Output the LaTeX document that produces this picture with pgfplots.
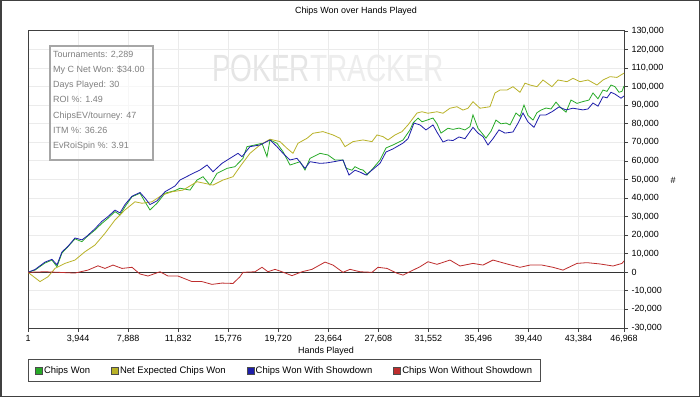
\documentclass[border=0pt]{standalone}
\usepackage{pgfplots}
\pgfplotsset{compat=1.18}
\usepackage{pgfplotstable}
\usepackage{fontspec}
\setmainfont{Liberation Sans}
\definecolor{cwon}{RGB}{40,170,40}
\definecolor{cnet}{RGB}{185,178,40}
\definecolor{cshow}{RGB}{30,30,170}
\definecolor{cnoshow}{RGB}{190,45,45}

\pgfplotstableread{
h v
1 0
552 1200
1340 5000
1891 6600
2285 3000
2679 10400
3152 13800
3704 18000
4255 16500
4649 19200
5280 22800
5831 26400
6304 29100
6856 32700
7250 30900
7644 35300
8196 40700
8826 42600
9220 38000
9614 33600
10166 37200
10796 42600
11584 44000
11978 45300
12766 44300
13318 49700
13791 51500
14342 47000
14894 53300
15682 56000
16312 56900
16943 61400
17258 67700
17888 68600
18440 69500
18834 62300
19071 71300
19622 69500
20095 65000
20647 57800
21435 59600
21829 55100
22223 61400
23011 64100
23641 63200
24193 60500
24823 60500
25060 56100
25532 55000
25769 56900
26163 55500
26399 55100
26636 53500
26715 52400
27187 56000
27739 60500
28212 67000
28763 68600
29552 71300
30103 76700
30340 80400
30735 83100
31049 81100
31443 82000
31916 83100
32231 80000
32546 75000
33098 77600
33492 77000
33965 77700
34437 76700
34831 78500
35068 84800
35462 77600
36092 72300
36486 76000
36879 82000
37274 80000
37668 80400
37984 79400
38456 85800
38772 84000
39087 90100
39402 84500
39796 82000
40111 86000
40426 87400
40820 88500
41215 88000
41609 91700
42003 88500
42397 86300
42791 92800
43263 91000
43736 92000
44209 92800
44524 96600
44918 93500
45312 98200
45627 97500
45942 100900
46258 100000
46573 97000
46810 97500
46968 100400
}\chipswon

\pgfplotstableread{
h v
1 0
946 -5000
1576 -2400
2128 2100
2916 4800
3704 6600
4492 11100
5280 14700
6068 21000
6856 28200
7644 33600
8432 38000
8984 37200
9772 38000
10560 41600
11348 43400
12215 44300
13318 48800
14579 47000
15367 49700
16155 51500
16706 56900
17494 64100
18283 68600
19071 71700
19859 70400
20410 66800
20883 64100
21277 69500
21986 72200
22459 74900
23247 75800
24035 74000
24587 72200
24981 67700
25611 70400
26399 71300
27109 70400
27503 74000
27975 73100
28369 71300
28921 74000
29472 75800
29946 79400
30655 85800
31049 86500
31522 85700
32231 86500
32703 85700
33255 88400
33807 89200
34280 87400
34674 88400
35068 91900
35619 88400
36407 89200
36801 96600
37196 98200
37747 98200
38220 100000
38772 97000
39166 101900
39560 100900
40111 100000
40584 103600
41293 100000
41766 103600
42475 102700
42948 104500
43500 102700
44130 103600
44839 100900
45312 103600
45864 105400
46416 105000
46968 107300
}\netexp

\pgfplotstableread{
h v
1 0
552 1500
1340 5500
1891 7000
2285 4000
2679 11000
3152 14000
3704 18500
4255 17500
4649 19500
5280 23500
5831 27500
6304 30000
6856 33500
7250 32000
7644 36500
8196 41000
8826 43000
9220 40000
9614 36500
10166 38500
10796 43400
11584 46500
11978 49700
13003 53300
13554 55100
14106 57800
14579 54200
15288 58700
15918 61400
16549 64100
16864 62300
17494 67700
18283 68600
19071 71300
19622 67700
20095 64100
20647 60500
21198 61400
21829 56000
22223 59600
23011 58700
23484 58900
24035 59500
24823 60500
25296 52400
25769 55000
26163 54000
26636 52400
27187 55500
27739 58700
28212 64800
28763 66500
29552 69600
29946 72000
30418 80400
30891 79400
31364 76700
31916 79400
32231 75500
32703 70200
33098 71300
33492 71000
33965 72900
34437 72000
35068 78100
35462 75000
35856 73100
36250 68600
36643 72000
37117 76700
37590 75000
38220 75600
38614 80300
39008 85800
39402 81000
39875 78100
40348 84800
40820 84800
41293 86500
41845 89100
42397 87500
42948 88400
43736 87500
44130 88000
44524 91200
44918 89500
45312 94600
45627 94000
45942 97000
46258 96000
46731 93800
46968 95000
}\withsd

\pgfplotstableread{
h v
1 0
1340 300
2364 0
3704 -400
4728 1200
5516 3500
6068 2100
6698 3900
7408 2100
8196 2700
8826 -900
9456 -2000
10402 300
11033 -2000
11821 -2000
12924 -5000
13712 -5000
14500 -6500
15288 -5800
16155 -6000
16706 -2400
16943 0
17888 300
18440 2700
18913 300
19465 1600
20016 300
20804 -1800
21592 300
22380 1600
23011 4000
23405 5500
24035 3900
24823 0
25375 1600
26163 300
27109 0
27582 2700
28291 2100
29079 -500
29552 -1500
30262 900
30891 3000
31522 5700
32231 4300
33255 6600
34043 3400
35068 4800
35856 3900
36644 6600
37747 4500
38772 2700
39560 3900
40505 3900
41372 2700
42160 1200
43263 4800
44051 5200
45076 4500
46100 3400
46810 4800
46968 6100
}\withoutsd

\begin{document}
\begin{tikzpicture}
\useasboundingbox (0,0) rectangle (700bp,397bp);
\fill[white] (0,0) rectangle (700bp,397bp);
% watermark
\node[anchor=center, inner sep=0, font=\fontsize{38}{38}\selectfont] at (328bp,329bp)
  {\scalebox{0.74}[1]{\textcolor{black!10}{POKER}\textcolor{black!7}{TRACKER}}};
\begin{axis}[
  at={(28bp,69bp)}, anchor=south west,
  width=596bp, height=297bp, scale only axis,
  xmin=1, xmax=46968, ymin=-30000, ymax=130000,
  xtick={1,3944,7888,11832,15776,19720,23664,27608,31552,35496,39440,43384,46968},
  xticklabels={1,{3,944},{7,888},{11,832},{15,776},{19,720},{23,664},{27,608},{31,552},{35,496},{39,440},{43,384},{46,968}},
  ytick={-30000,-20000,...,130000},
  scaled y ticks=false, scaled x ticks=false,
  yticklabel pos=right, ytick pos=right, xtick pos=left,
  /pgf/number format/assume math mode=true,
  yticklabel style={/pgf/number format/.cd, fixed, 1000 sep={,}},
  ticklabel style={font=\fontsize{9}{10}\selectfont},
  grid=major, grid style={black!8, line width=1bp},
  axis line style={black!75, line width=1bp},
  tick style={black!75, line width=0.8bp}, tick align=outside, major tick length=4bp,
  xlabel={Hands Played},
  xlabel style={at={(axis description cs:0.5,0)}, anchor=center, yshift=-23bp, font=\fontsize{9}{10}\selectfont},
  title={Chips Won over Hands Played},
  title style={at={(axis description cs:0.5,1)}, anchor=center, xshift=30bp, yshift=14bp, font=\fontsize{9}{10}\selectfont},
  legend columns=4,
  legend cell align=left,
  legend image code/.code={\draw[#1, fill, draw=black!70, line width=0.5bp] (0bp,-3.5bp) rectangle (7bp,3.5bp);},
  legend style={at={(axis description cs:0,0)}, anchor=north west, yshift=-31bp,
    draw=black!70, line width=1bp, font=\fontsize{9.5}{10}\selectfont,
    inner xsep=6.5bp, inner ysep=5bp, column sep=0bp,
    nodes={inner xsep=1.5bp},
    /tikz/every odd column/.append style={column sep=0bp},
    /tikz/every even column/.append style={column sep=19.5bp}},
  every axis plot/.append style={line width=0.8bp},
]
\draw[black!80, line width=0.8bp] (axis cs:1,0) -- (axis cs:46968,0);
\addplot[color=cwon] table[x=h,y=v] {\chipswon};
\addlegendentry{Chips Won}
\addplot[color=cnet] table[x=h,y=v] {\netexp};
\addlegendentry{Net Expected Chips Won}
\addplot[color=cshow] table[x=h,y=v] {\withsd};
\addlegendentry{Chips Won With Showdown}
\addplot[color=cnoshow] table[x=h,y=v] {\withoutsd};
\addlegendentry{Chips Won Without Showdown}
\end{axis}
% stats box
\draw[black!35, line width=1.2bp, fill=white, fill opacity=0.6] (50bp,237bp) rectangle (153bp,351bp);
\node[anchor=north west, align=left, inner sep=0, text=black!50,
  font=\fontsize{9}{15.2}\selectfont] at (53bp,346bp)
  {Tournaments: 2,289\\My C Net Won: \$34.00\\Days Played: 30\\ROI \%: 1.49\\ChipsEV/tourney: 47\\ITM \%: 36.26\\EvRoiSpin \%: 3.91};
% y label
\node[font=\fontsize{9}{10}\selectfont] at (673bp,217bp) {\#};
% outer frame
\draw[black!75, line width=1.5bp] (0.75bp,0.75bp) rectangle (699.25bp,396.25bp);
\end{tikzpicture}
\end{document}
